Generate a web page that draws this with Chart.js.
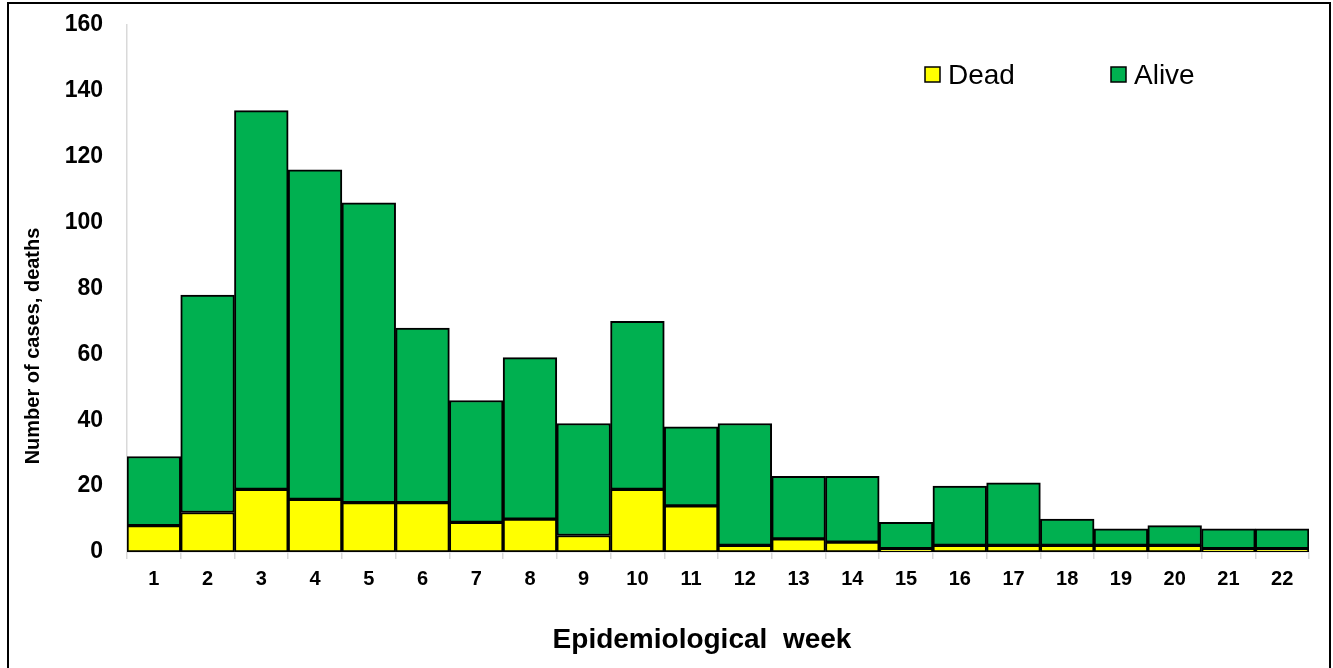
<!DOCTYPE html>
<html>
<head>
<meta charset="utf-8">
<script src="https://cdn.jsdelivr.net/npm/chart.js@4.4.1/dist/chart.umd.min.js"></script>
<style>
  html, body { margin: 0; padding: 0; background: #ffffff; }
  #wrap { position: relative; width: 1333px; height: 668px; }
</style>
</head>
<body>
<div id="wrap"><canvas id="c" width="1333" height="668"></canvas></div>
<script>
const weeks = ['1','2','3','4','5','6','7','8','9','10','11','12','13','14','15','16','17','18','19','20','21','22'];
const dead  = [8, 12, 19, 16, 15, 15, 9, 10, 5, 19, 14, 2, 4, 3, 1, 2, 2, 2, 2, 2, 1, 1];
const alive = [21, 66, 115, 100, 91, 53, 37, 49, 34, 51, 24, 37, 19, 20, 8, 18, 19, 8, 5, 6, 6, 6];
const seriesNames = ['Dead', 'Alive'];
const yTitle = 'Number of cases, deaths';
const xTitle = 'Epidemiological  week';

const FONT = '"Liberation Sans", Arial, sans-serif';

const customDraw = {
  id: 'customDraw',
  afterDraw(chart) {
    const ctx = chart.ctx;
    ctx.save();
    // outer frame
    ctx.strokeStyle = '#000000';
    ctx.lineWidth = 2;
    ctx.beginPath();
    ctx.moveTo(8, 700);
    ctx.lineTo(8, 3);
    ctx.lineTo(1330, 3);
    ctx.lineTo(1330, 700);
    ctx.stroke();

    // y title
    ctx.fillStyle = '#000000';
    ctx.font = 'bold 20px ' + FONT;
    ctx.textAlign = 'center';
    ctx.textBaseline = 'middle';
    ctx.translate(33, 346);
    ctx.rotate(-Math.PI / 2);
    ctx.fillText(yTitle, 0, 0);
    ctx.setTransform(1, 0, 0, 1, 0, 0);

    // x title
    ctx.font = 'bold 28px ' + FONT;
    ctx.textAlign = 'center';
    ctx.textBaseline = 'alphabetic';
    ctx.fillText(xTitle, 702, 648);

    // legend
    const legX = [925, 1111];
    ctx.font = '28px ' + FONT;
    ctx.textAlign = 'left';
    ctx.textBaseline = 'alphabetic';
    chart.data.datasets.forEach((ds, i) => {
      const x = legX[i];
      ctx.fillStyle = ds.backgroundColor;
      ctx.fillRect(x, 67, 15, 15);
      ctx.lineWidth = 1.5;
      ctx.strokeStyle = '#000000';
      ctx.strokeRect(x, 67, 15, 15);
      ctx.fillStyle = '#000000';
      ctx.fillText(ds.label, x + 23, 84);
    });
    ctx.restore();
  }
};

new Chart(document.getElementById('c'), {
  type: 'bar',
  data: {
    labels: weeks,
    datasets: [
      { label: seriesNames[0], data: dead, backgroundColor: '#FFFF00', borderColor: '#000000', borderWidth: 2, borderSkipped: false },
      { label: seriesNames[1], data: alive, backgroundColor: '#00B050', borderColor: '#000000', borderWidth: 2, borderSkipped: false }
    ]
  },
  options: {
    responsive: false,
    animation: false,
    layout: { padding: { top: 25, right: 24, left: 0, bottom: 0 } },
    datasets: { bar: { barPercentage: 1.0, categoryPercentage: 1.0 } },
    plugins: {
      legend: { display: false },
      tooltip: { enabled: false },
      title: { display: false }
    },
    scales: {
      x: {
        stacked: true,
        offset: true,
        afterFit(scale) { scale.height = 116; scale.paddingLeft = 0; scale.paddingRight = 0; },
        grid: {
          display: true,
          offset: true,
          drawOnChartArea: false,
          drawTicks: true,
          tickLength: 7,
          color: '#d9d9d9',
          lineWidth: 1.5
        },
        border: { display: true, color: '#d9d9d9', width: 1.5 },
        ticks: {
          color: '#000000',
          font: { family: FONT, size: 20, weight: 'bold' },
          padding: 8,
          maxRotation: 0,
          autoSkip: false
        }
      },
      y: {
        stacked: true,
        min: 0,
        max: 160,
        afterFit(scale) { scale.width = 127; scale.paddingTop = 0; scale.paddingBottom = 0; },
        grid: { display: false, drawTicks: false },
        border: { display: true, color: '#d9d9d9', width: 1.5 },
        ticks: {
          stepSize: 20,
          color: '#000000',
          font: { family: FONT, size: 23, weight: 'bold' },
          padding: 24
        }
      }
    }
  },
  plugins: [customDraw]
});
</script>
</body>
</html>
